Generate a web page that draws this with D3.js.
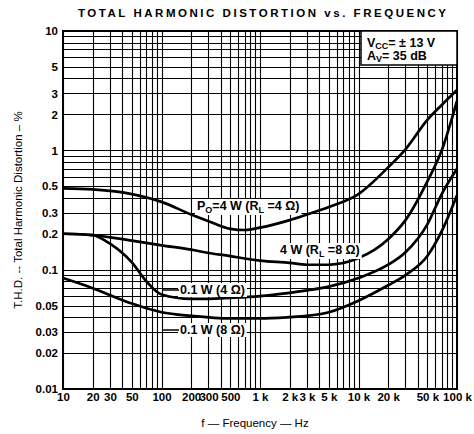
<!DOCTYPE html>
<html><head><meta charset="utf-8">
<script src="https://cdn.jsdelivr.net/npm/d3@7"></script>
<style>
html,body{margin:0;padding:0;background:#fff;}
svg{display:block;font-family:"Liberation Sans",Arial,Helvetica,sans-serif;}
</style></head>
<body><svg id="chart" width="474" height="434"></svg>
<script>
// ---- data ----
const xTicks = [10,20,30,50,100,200,300,500,1000,2000,3000,5000,10000,20000,50000,100000];
const xTickLabels = ["10","20","30","50","100","200","300","500","1 k","2 k","3 k","5 k","10 k","20 k","50 k","100 k"];
const yTicks = [10,5,3,2,1,0.5,0.3,0.2,0.1,0.05,0.03,0.02,0.01];
const yTickLabels = ["10","5","3","2","1","0.5","0.3","0.2","0.1","0.05","0.03","0.02","0.01"];

// PO = 4 W (RL = 4 Ω)
const freqA = [10,20,50,100,200,300,500,700,1000,2000,3000,5000,10000,20000,30000,50000,70000,100000];
const thdA  = [0.48,0.47,0.43,0.37,0.29,0.255,0.22,0.215,0.225,0.26,0.29,0.335,0.43,0.72,1.02,1.8,2.4,3.2];
// 4 W (RL = 8 Ω)
const freqB = [10,20,50,100,200,300,500,700,1000,2000,3000,5000,10000,20000,30000,50000,70000,100000];
const thdB  = [0.2,0.195,0.175,0.16,0.147,0.138,0.13,0.124,0.119,0.114,0.11,0.11,0.125,0.18,0.26,0.55,1.0,2.6];
// 0.1 W (4 Ω)
const freqC = [10,20,30,50,70,100,200,300,500,1000,2000,3000,5000,10000,20000,30000,50000,70000,100000];
const thdC  = [0.2,0.195,0.165,0.115,0.08,0.062,0.057,0.057,0.058,0.06,0.064,0.067,0.072,0.085,0.11,0.14,0.24,0.43,0.7];
// 0.1 W (8 Ω)
const freqD = [10,20,50,100,200,500,1000,2000,3000,5000,10000,20000,30000,50000,70000,100000];
const thdD  = [0.085,0.07,0.052,0.044,0.041,0.039,0.039,0.04,0.041,0.044,0.055,0.074,0.09,0.13,0.21,0.42];

// ---- layout ----
const L = 63, R = 457, T = 31, B = 389;
const svg = d3.select("#chart");
const x = d3.scaleLog().domain([10,100000]).range([L,R]);
const y = d3.scaleLog().domain([0.01,10]).range([B,T]);

// grid
const gx = [], gy = [];
for (let d = 10; d < 100000; d *= 10) for (let k = 1; k <= 9; k++) gx.push(d*k);
gx.push(100000);
for (let d = 0.01; d < 9.99; d *= 10) for (let k = 1; k <= 9; k++) gy.push(+(d*k).toPrecision(3));
gy.push(10);

const grid = svg.append("g").attr("stroke","#000").attr("stroke-width",1.1);
grid.selectAll("line.v").data(gx).join("line")
  .attr("x1",d=>Math.round(x(d))+0.5).attr("x2",d=>Math.round(x(d))+0.5)
  .attr("y1",T).attr("y2",B);
grid.selectAll("line.h").data(gy).join("line")
  .attr("y1",d=>Math.round(y(d))+0.5).attr("y2",d=>Math.round(y(d))+0.5)
  .attr("x1",L).attr("x2",R);

// frame
svg.append("rect").attr("x",L).attr("y",T).attr("width",R-L).attr("height",B-T)
  .attr("fill","none").attr("stroke","#000").attr("stroke-width",2);

// axes (labels only)
const xAxis = d3.axisBottom(x).tickValues(xTicks).tickFormat((d,i)=>xTickLabels[i]).tickSize(0).tickPadding(4);
const gxa = svg.append("g").attr("transform",`translate(0,${B})`).call(xAxis);
gxa.select(".domain").remove();
gxa.selectAll("text").attr("font-size",11.5).attr("font-weight","bold").attr("fill","#000")
  .attr("font-family","Liberation Sans, Arial, sans-serif");

const yAxis = d3.axisLeft(y).tickValues(yTicks).tickFormat((d,i)=>yTickLabels[i]).tickSize(0).tickPadding(5);
const gya = svg.append("g").attr("transform",`translate(${L},0)`).call(yAxis);
gya.select(".domain").remove();
gya.selectAll("text").attr("font-size",11.5).attr("font-weight","bold").attr("fill","#000")
  .attr("font-family","Liberation Sans, Arial, sans-serif");

// curves
const line = d3.line().x(d=>x(d[0])).y(d=>y(d[1])).curve(d3.curveMonotoneX);
const series = [[freqA,thdA],[freqB,thdB],[freqC,thdC],[freqD,thdD]];
svg.append("g").selectAll("path").data(series).join("path")
  .attr("d",s=>line(s[0].map((f,i)=>[f,s[1][i]])))
  .attr("fill","none").attr("stroke","#000").attr("stroke-width",2.7).attr("stroke-linejoin","round");

// curve labels with white background
function label(tx, ty, parts) {
  const g = svg.append("g");
  const t = g.append("text").attr("x",tx).attr("y",ty).attr("font-size",12.5).attr("font-weight","bold");
  let shift = 0;
  parts.forEach(p=>{
    if (typeof p === "string") {
      const ts = t.append("tspan").text(p);
      if (shift) { ts.attr("dy",-shift); shift = 0; }
    } else {
      t.append("tspan").attr("font-size",9).attr("dy",3).text(p.sub);
      shift = 3;
    }
  });
  const bb = t.node().getBBox();
  g.insert("rect","text").attr("x",bb.x-2).attr("y",bb.y).attr("width",bb.width+4).attr("height",bb.height)
    .attr("fill","#fff");
  return g;
}
label(197,210,["P",{sub:"O"},"=4 W (R",{sub:"L"}," =4 \u03A9)"]);
label(280,254,["4 W (R",{sub:"L"}," =8 \u03A9)"]);
label(180,294,["0.1 W (4 \u03A9)"]);
label(180,334,["0.1 W (8 \u03A9)"]);
svg.append("line").attr("x1",163).attr("x2",179).attr("y1",290).attr("y2",290).attr("stroke","#000").attr("stroke-width",1.5);
svg.append("line").attr("x1",163).attr("x2",179).attr("y1",330).attr("y2",330).attr("stroke","#000").attr("stroke-width",1.5);

// condition box
svg.append("rect").attr("x",361).attr("y",T).attr("width",R-361).attr("height",34)
  .attr("fill","#fff").attr("stroke","#000").attr("stroke-width",1.5);
const c1 = svg.append("text").attr("x",367).attr("y",47).attr("font-size",12.5).attr("font-weight","bold");
c1.append("tspan").text("V");
c1.append("tspan").attr("font-size",9).attr("dy",2).text("CC");
c1.append("tspan").attr("dy",-2).text("= \u00B1 13 V");
const c2 = svg.append("text").attr("x",367).attr("y",60).attr("font-size",12.5).attr("font-weight","bold");
c2.append("tspan").text("A");
c2.append("tspan").attr("font-size",9).attr("dy",2).text("V");
c2.append("tspan").attr("dy",-2).text("= 35 dB");

// title
svg.append("text").attr("x",262).attr("y",17).attr("text-anchor","middle")
  .attr("font-size",11.5).attr("font-weight","bold").attr("textLength",368).attr("lengthAdjust","spacing")
  .text("TOTAL HARMONIC DISTORTION vs. FREQUENCY");

// axis titles
svg.append("text").attr("x",255).attr("y",427).attr("text-anchor","middle").attr("font-size",11.5)
  .text("f \u2014 Frequency \u2014 Hz");
svg.append("text").attr("transform","translate(22,210) rotate(-90)").attr("text-anchor","middle").attr("font-size",11.5)
  .text("T.H.D. -- Total Harmonic Distortion \u2013 %");
</script></body></html>
